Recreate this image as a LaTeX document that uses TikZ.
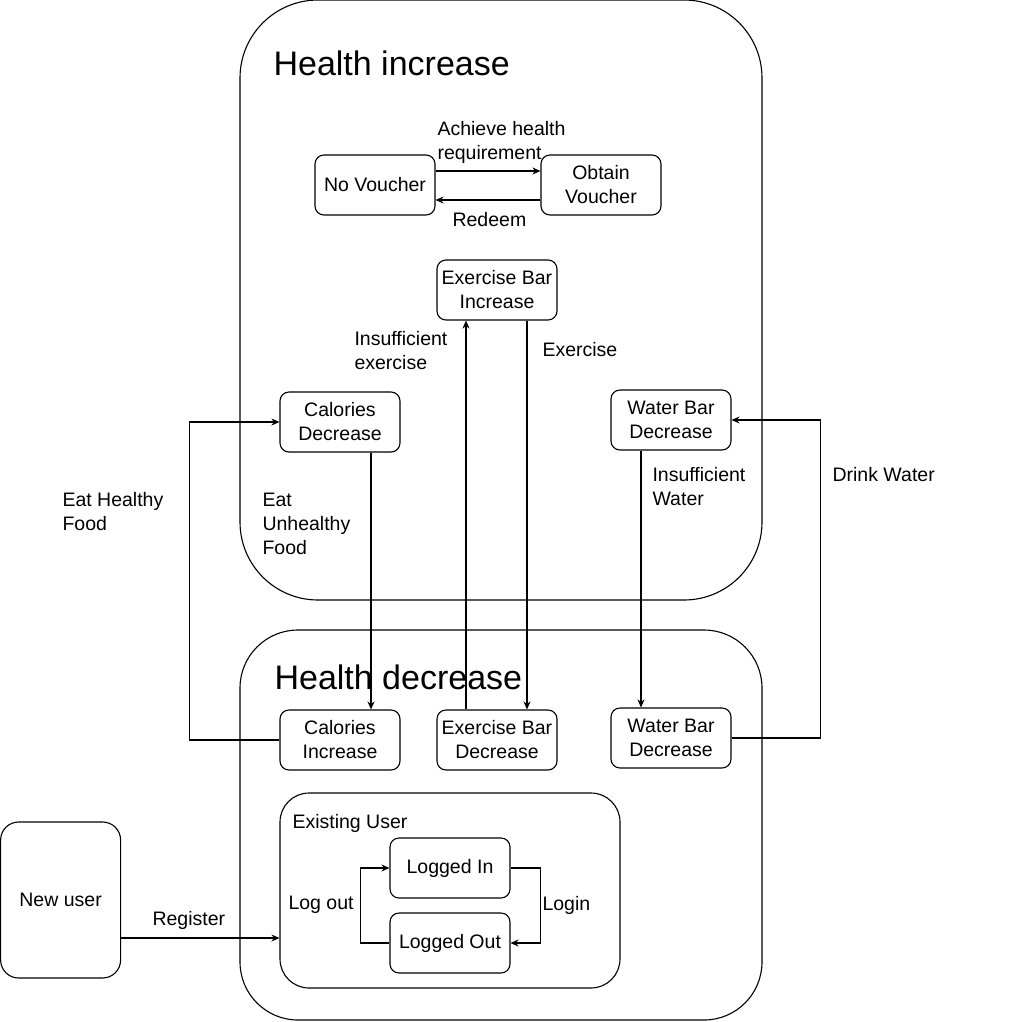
\documentclass[tikz,border=0pt]{standalone}
\usepackage{fontspec}
\setmainfont{Liberation Sans}
\usetikzlibrary{calc,arrows.meta}

\begin{document}
\begin{tikzpicture}[x=1pt,y=-1pt,line width=1.1pt,
  every node/.style={font=\fontsize{19.5}{24}\selectfont},
  box/.style={draw,rounded corners=9pt,minimum width=120pt,minimum height=60pt,align=center,inner sep=2pt},
  lbl/.style={anchor=west,align=left,inner sep=0pt},
  head/.style={anchor=base west,inner sep=0pt,font=\fontsize{34}{40}\selectfont},
  arr/.style={-{Stealth[length=8pt,width=7pt]}}]
\useasboundingbox (0,0) rectangle (1026,1021);
% containers
\node[draw,rounded corners=78pt,minimum width=522pt,minimum height=600pt] (inc) at (501,300) {};
\node[draw,rounded corners=58pt,minimum width=522pt,minimum height=390pt] (dec) at (501,825) {};
\node[draw,rounded corners=29pt,minimum width=340pt,minimum height=195pt] (exist) at (450,890.5) {};
\node[head] (t1) at (273,75) {Health increase};
\node[head] (t2) at (274,689) {Health decrease};
\node[lbl] (t3) at (292,823) {Existing User};

\node[box] (nov) at (375,185) {No Voucher};
\node[box] (obt) at (601,185) {Obtain\\Voucher};
\node[box] (exi) at (497,290) {Exercise Bar\\Increase};
\node[box] (cald) at (340,422) {Calories\\Decrease};
\node[box] (wtop) at (671,420) {Water Bar\\Decrease};
\node[box] (cali) at (340,740) {Calories\\Increase};
\node[box] (exd) at (497,740) {Exercise Bar\\Decrease};
\node[box] (wbot) at (671,738) {Water Bar\\Decrease};
\node[box] (lin) at (450,868) {Logged In};
\node[box] (lout) at (450,943) {Logged Out};
\node[box,rounded corners=18pt,minimum height=156pt] (newu) at (60.6,900) {New user};

\draw[arr] ([yshift=14pt]nov.east) -- ([yshift=14pt]nov.east -| obt.west);
\draw[arr] ([yshift=-15pt]obt.west) -- ([yshift=-15pt]obt.west -| nov.east);
\draw[arr] ([xshift=31pt]cald.south) -- ([xshift=31pt]cali.north);
\draw[arr] (cali.west) -- ++(-90,0) |- (cald.west);
\draw[arr] ([xshift=-31pt]exd.north) -- ([xshift=-31pt]exi.south);
\draw[arr] ([xshift=30pt]exi.south) -- ([xshift=30pt]exd.north);
\draw[arr] ([xshift=-30pt]wtop.south) -- ([xshift=-30pt]wbot.north);
\draw[arr] (wbot.east) -- ++(89,0) |- (wtop.east);
\coordinate (reg) at ([yshift=-38pt]newu.east);
\draw[arr] (reg) -- (reg -| exist.west);
\draw[arr] (lin.east) -- ++(30,0) |- (lout.east);
\draw[arr] (lout.west) -- ++(-29,0) |- (lin.west);

\node[lbl] (l1) at (437,142) {Achieve health\\requirement};
\node[lbl] (l2) at (452,220) {Redeem};
\node[lbl] (l3) at (354,351) {Insufficient\\exercise};
\node[lbl] (l4) at (542,350) {Exercise};
\node[lbl] (l5) at (62,512) {Eat Healthy\\Food};
\node[lbl] (l6) at (262,524) {Eat\\Unhealthy\\Food};
\node[lbl] (l7) at (652,487) {Insufficient\\Water};
\node[lbl] (l8) at (832,475) {Drink Water};
\node[lbl] (l9) at (152,920) {Register};
\node[lbl] (l10) at (288,905) {Log out};
\node[lbl] (l11) at (542,905) {Login};
\end{tikzpicture}
\end{document}
